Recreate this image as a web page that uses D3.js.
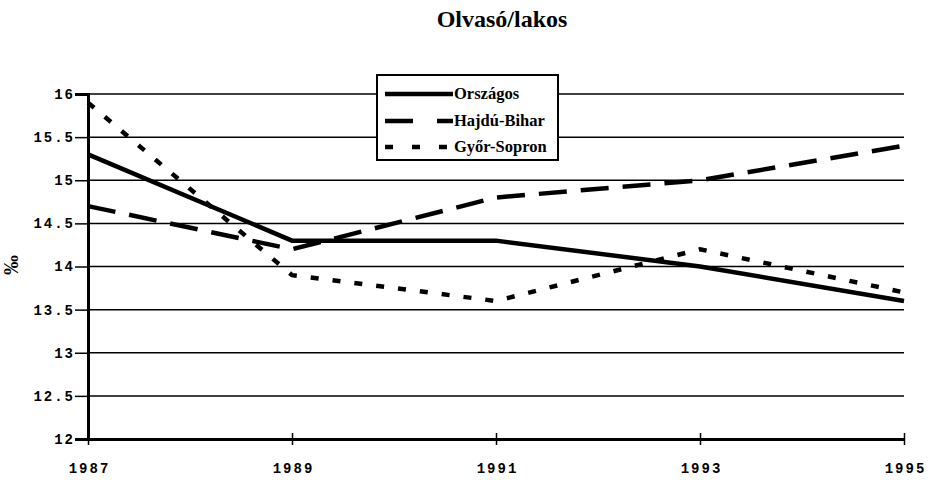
<!DOCTYPE html>
<html>
<head>
<meta charset="utf-8">
<script src="https://cdn.jsdelivr.net/npm/d3@7"></script>
<style>
  body { margin: 0; background: #fff; }
</style>
</head>
<body>
<div class="canvas" style="width:937px;height:480px;"></div>
<script>
// chart data
var years = [1987, 1989, 1991, 1993, 1995];
var orszagos = [15.3, 14.3, 14.3, 14.0, 13.6];
var hajduBihar = [14.7, 14.2, 14.8, 15.0, 15.4];
var gyorSopron = [15.9, 13.9, 13.6, 14.2, 13.7];
var seriesNames = ['Országos', 'Hajdú-Bihar', 'Győr-Sopron'];
var yTicks = [12, 12.5, 13, 13.5, 14, 14.5, 15, 15.5, 16];

var width = 937, height = 480;
var svg = d3.select('.canvas').append('svg')
	.attr('width', width).attr('height', height);

var x = d3.scaleLinear().domain([1987, 1995]).range([88, 904]);
var y = d3.scaleLinear().domain([12, 16]).range([439, 94]);

// title
svg.append('text')
	.attr('x', 502).attr('y', 27)
	.attr('text-anchor', 'middle')
	.style('font-family', '"Liberation Serif", "Times New Roman", serif')
	.style('font-weight', 'bold').style('font-size', '24px')
	.text('Olvasó/lakos');

// gridlines
svg.append('g').selectAll('line.grid')
	.data(yTicks.slice(1))
	.enter().append('line')
	.attr('x1', 88).attr('x2', 904)
	.attr('y1', d => y(d)).attr('y2', d => y(d))
	.attr('stroke', '#000').attr('stroke-width', 1.5);

function styleTicks(g, dx) {
	g.selectAll('.tick text')
		.attr('font-family', '"Liberation Mono", "Courier New", monospace')
		.attr('font-weight', 'bold')
		.attr('font-size', 14)
		.attr('letter-spacing', 2)
		.attr('dx', dx)
		.attr('fill', '#000');
}

// axes
var yAxis = svg.append('g')
	.attr('transform', 'translate(88,0)')
	.call(d3.axisLeft(y).tickValues(yTicks).tickSize(13).tickPadding(2)
		.tickFormat(d => String(d)));
yAxis.select('.domain').attr('stroke-width', 3);
yAxis.selectAll('.tick line').attr('stroke-width', 1.5);
styleTicks(yAxis, 2);

var xAxis = svg.append('g')
	.attr('transform', 'translate(0,439)')
	.call(d3.axisBottom(x).tickValues(years).tickSize(0).tickPadding(24)
		.tickFormat(d3.format('d')));
xAxis.select('.domain').attr('stroke-width', 3);
xAxis.selectAll('.tick').append('line')
	.attr('y1', -6).attr('y2', 6)
	.attr('stroke', '#000').attr('stroke-width', 1.5);
styleTicks(xAxis, 1);

// y label (per mille)
svg.append('text')
	.attr('transform', 'translate(18,265) rotate(-90)')
	.attr('text-anchor', 'middle')
	.style('font-family', '"Liberation Serif", serif')
	.style('font-weight', 'bold').style('font-size', '20px')
	.text('‰');

// lines
var styles = [
	{ data: orszagos, dash: null },
	{ data: hajduBihar, dash: '28,14' },
	{ data: gyorSopron, dash: '8,14' }
];
var line = d3.line()
	.x((d, i) => x(years[i]))
	.y(d => y(d));

styles.forEach(function(s) {
	svg.append('path')
		.datum(s.data)
		.attr('d', line)
		.attr('fill', 'none')
		.attr('stroke', '#000')
		.attr('stroke-width', 4.5)
		.attr('stroke-dasharray', s.dash);
});

// legend
var lg = svg.append('g');
lg.append('rect')
	.attr('x', 377).attr('y', 75).attr('width', 181).attr('height', 85)
	.attr('fill', '#fff').attr('stroke', '#000').attr('stroke-width', 2);
var rowsY = [94, 121, 147];
styles.forEach(function(s, i) {
	lg.append('line')
		.attr('x1', 385).attr('x2', 453)
		.attr('y1', rowsY[i]).attr('y2', rowsY[i])
		.attr('stroke', '#000').attr('stroke-width', 4.5)
		.attr('stroke-dasharray', i === 0 ? null : (i === 1 ? '28,24' : '8,19'));
	lg.append('text')
		.attr('x', 454).attr('y', rowsY[i] + 5)
		.style('font-family', '"Liberation Serif", serif')
		.style('font-weight', 'bold').style('font-size', '16.5px')
		.text(seriesNames[i]);
});
</script>
</body>
</html>
